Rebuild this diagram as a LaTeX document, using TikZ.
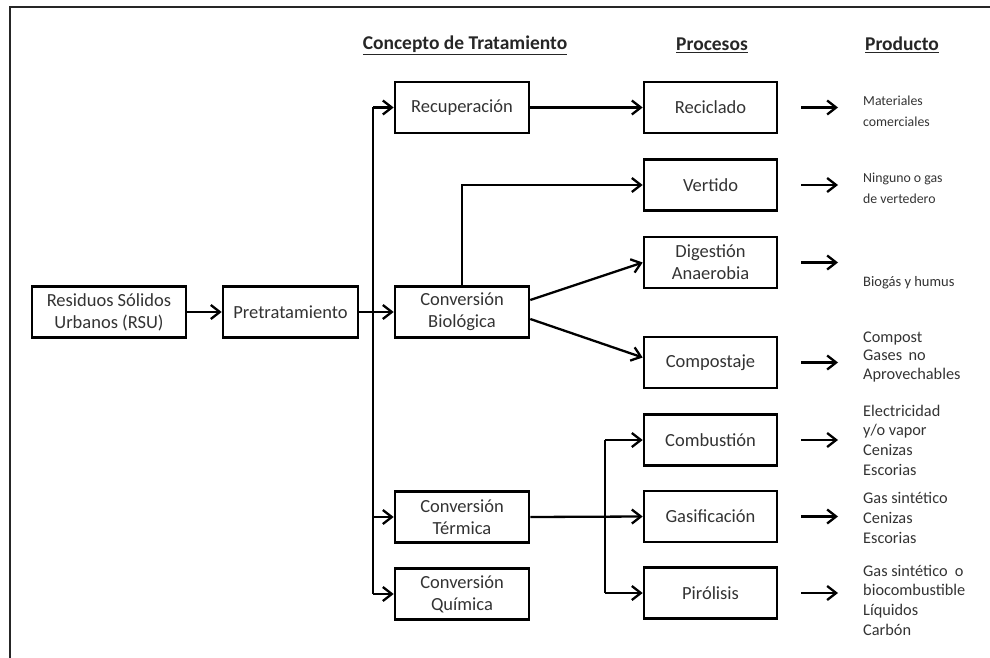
\documentclass[tikz,border=0pt]{standalone}
\usepackage{fontspec}
\setmainfont{Carlito}
\usetikzlibrary{arrows.meta}
\begin{document}
\begin{tikzpicture}[x=1pt,y=-1pt,
  box/.style={draw=black,line width=2.6pt,rectangle,minimum width=134pt,minimum height=51pt,
    align=center,inner sep=2pt,font=\fontsize{18.5}{22}\selectfont,text=black!80},
  head/.style={font=\bfseries\fontsize{19.5}{23}\selectfont,text=black!85},
  prod/.style={anchor=west,align=left,inner sep=0pt,font=\fontsize{16.3}{19.7}\selectfont,text=black!80},
  prodsm/.style={prod,font=\fontsize{13.8}{21}\selectfont},
  arr/.style={line width=2.3pt,-{Straight Barb[length=9pt,width=14pt,line width=2.3pt]}},
  ln/.style={line width=2.3pt}]
\useasboundingbox (0,0) rectangle (990,658);
% outer frame
\draw[line width=2.2pt,black!85] (990,7) -- (10,7) -- (10,658);

% column headings
\node[head] (h1) at (465,45) {\underline{Concepto de Tratamiento}};
\node[head] (h2) at (712,45) {\underline{Procesos}};
\node[head] (h3) at (902,45) {\underline{Producto}};

% input stage
\node[box,minimum width=154pt] (rsu) at (109,312) {Residuos Sólidos\\Urbanos (RSU)};
\node[box,minimum width=135pt] (pre) at (290.5,312) {Pretratamiento};

% treatment concepts
\node[box] (rec) at (462,107.5) {Recuperación};
\node[box] (bio) at (462,312) {Conversión\\Biológica};
\node[box] (ter) at (462,517) {Conversión\\Térmica};
\node[box] (qui) at (462,594) {Conversión\\Química};

% processes
\node[box,minimum width=133pt] (rcl) at (710.5,107.5) {Reciclado};
\node[box,minimum width=133pt] (ver) at (710.5,185) {Vertido};
\node[box,minimum width=133pt] (dig) at (710.5,262.5) {Digestión\\Anaerobia};
\node[box,minimum width=133pt] (com) at (710.5,362.5) {Compostaje};
\node[box,minimum width=133pt] (cmb) at (710.5,440) {Combustión};
\node[box,minimum width=133pt] (gas) at (710.5,516.5) {Gasificación};
\node[box,minimum width=133pt] (pir) at (710.5,593) {Pirólisis};

% products
\node[prodsm] (p1) at (863,111) {Materiales\\comerciales};
\node[prodsm] (p2) at (863,188) {Ninguno o gas\\de vertedero};
\node[prodsm,font=\fontsize{14.5}{16}\selectfont] (p3) at (863,283) {Biogás\ y\ humus};
\node[prod,font=\fontsize{16.3}{18.5}\selectfont] (p4) at (863,357) {Compost\\Gases\ \,no\\Aprovechables};
\node[prod] (p5) at (863,440) {Electricidad\\y/o vapor\\Cenizas\\Escorias};
\node[prod] (p6) at (863,518) {Gas sintético\\Cenizas\\Escorias};
\node[prod] (p7) at (863,600) {Gas sintético\ \ o\\biocombustible\\Líquidos\\Carbón};

% branching trunks
\coordinate (t1) at (373,0);
\coordinate (t2) at (605,0);
\coordinate (ptip) at (838,0);

\draw[arr] (rsu) -- (pre);
\draw[arr] (pre) -- (bio);
\draw[ln] (rec.west -| t1) -- (qui.west -| t1);
\draw[arr] (rec.west -| t1) -- (rec.west);
\draw[arr] (ter.west -| t1) -- (ter.west);
\draw[arr] (qui.west -| t1) -- (qui.west);

\draw[arr] (rec) -- (rcl);
\draw[arr] (bio.north) -- (bio.north |- ver.west) -- (ver.west);
\draw[arr] ([yshift=12pt]bio.east) -- (dig.west);
\draw[arr] ([yshift=-7pt]bio.east) -- ([yshift=5pt]com.west);

\draw[arr] (ter.east) -- (gas.west);
\draw[ln] (cmb.west -| t2) -- (pir.west -| t2);
\draw[arr] (cmb.west -| t2) -- (cmb.west);
\draw[arr] (pir.west -| t2) -- (pir.west);

% process to product arrows
\foreach \p in {rcl,ver,dig,com,cmb,gas,pir}
  \draw[arr] ([xshift=23pt]\p.east) -- (\p.east -| ptip);
\end{tikzpicture}
\end{document}
